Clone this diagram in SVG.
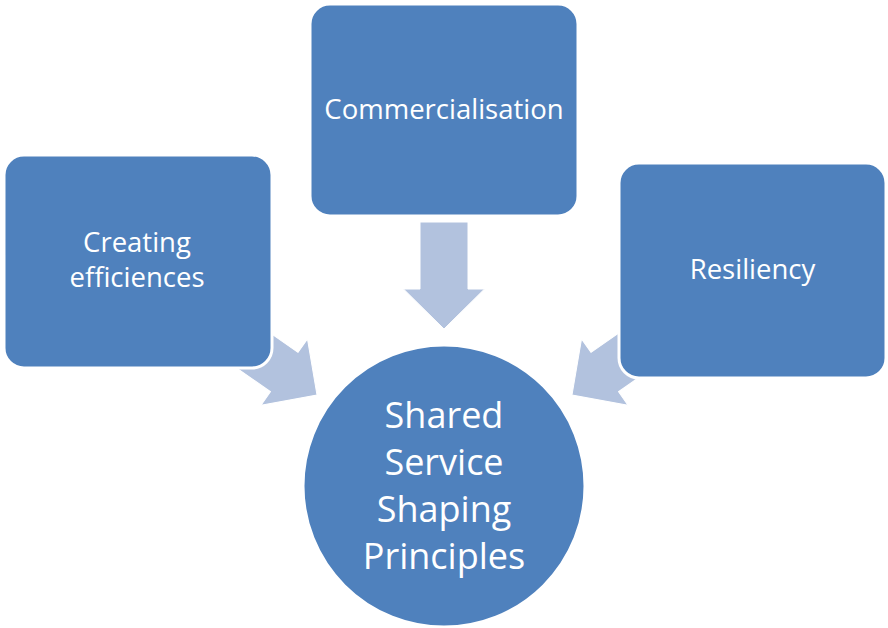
<svg xmlns="http://www.w3.org/2000/svg" width="888" height="628" viewBox="0 0 888 628">
  <defs>
    <style>
      .box { fill: #4F81BD; stroke: #FFFFFF; stroke-width: 3; }
      .arrow { fill: #B2C2DE; stroke: #FFFFFF; stroke-width: 1; }
      .lbl { font-family: "Open Sans", "Liberation Sans", sans-serif; fill: #FFFFFF; text-anchor: middle; }
      .small { font-size: 27.5px; }
      .big { font-size: 36px; }
    </style>
    <polygon id="arrowShape" points="-24,-107 24,-107 24,-40 40.5,-40 0,0 -40.5,-40 -24,-40"/>
  </defs>
  <rect width="888" height="628" fill="#FFFFFF"/>
  <g id="connectors">
    <use href="#arrowShape" class="arrow" transform="translate(444,329)"/>
    <use href="#arrowShape" class="arrow" transform="translate(317,395) rotate(-55)"/>
    <use href="#arrowShape" class="arrow" transform="translate(572,395) rotate(55)"/>
  </g>
  <g id="node-creating">
    <rect class="box" x="4" y="155" width="268" height="213" rx="20" ry="20"/>
    <text class="lbl small" x="137" y="252">Creating</text>
    <text class="lbl small" x="137" y="287">efficiences</text>
  </g>
  <g id="node-commercialisation">
    <rect class="box" x="310" y="4" width="268" height="212" rx="20" ry="20"/>
    <text class="lbl small" x="444" y="119">Commercialisation</text>
  </g>
  <g id="node-resiliency">
    <rect class="box" x="619" y="163" width="267" height="215" rx="20" ry="20"/>
    <text class="lbl small" x="752.5" y="279">Resiliency</text>
  </g>
  <g id="node-center">
    <circle class="box" cx="444" cy="486" r="141"/>
    <text class="lbl big" x="444" y="428">Shared</text>
    <text class="lbl big" x="444" y="475">Service</text>
    <text class="lbl big" x="444" y="522">Shaping</text>
    <text class="lbl big" x="444" y="569">Principles</text>
  </g>
</svg>
